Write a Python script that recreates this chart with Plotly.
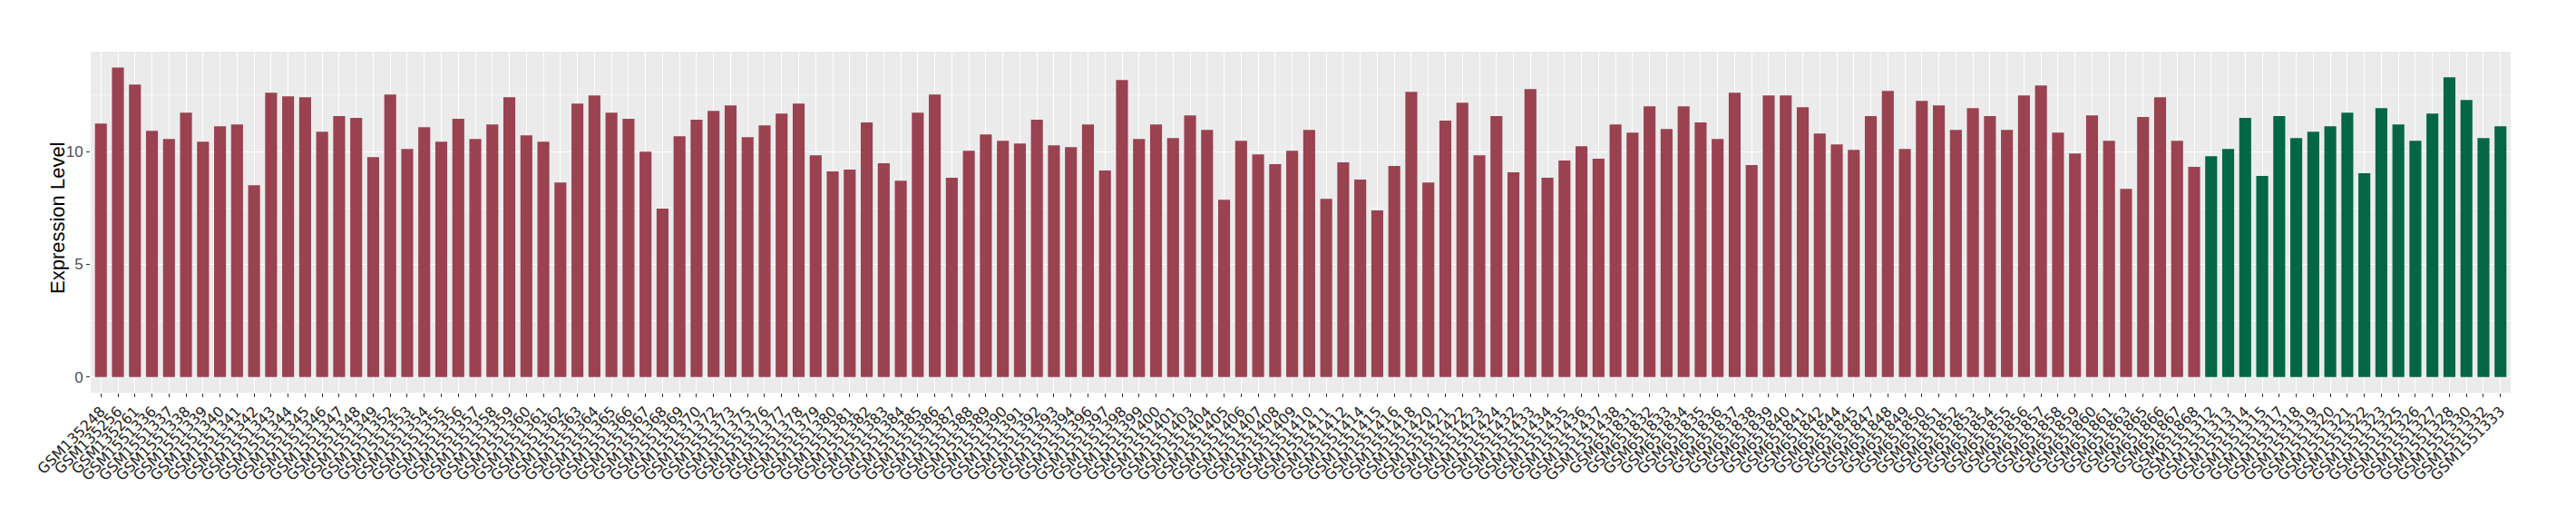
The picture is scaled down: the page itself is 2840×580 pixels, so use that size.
import plotly.graph_objects as go

# Group 1 (red) samples and expression levels
red_samples = [
    "GSM135248", "GSM135256", "GSM135261",
    "GSM1551336", "GSM1551337", "GSM1551338", "GSM1551339", "GSM1551340", "GSM1551341",
    "GSM1551342", "GSM1551343", "GSM1551344", "GSM1551345", "GSM1551346", "GSM1551347",
    "GSM1551348", "GSM1551349", "GSM1551352", "GSM1551353", "GSM1551354", "GSM1551355",
    "GSM1551356", "GSM1551357", "GSM1551358", "GSM1551359", "GSM1551360", "GSM1551361",
    "GSM1551362", "GSM1551363", "GSM1551364", "GSM1551365", "GSM1551366", "GSM1551367",
    "GSM1551368", "GSM1551369", "GSM1551370", "GSM1551372", "GSM1551373", "GSM1551375",
    "GSM1551376", "GSM1551377", "GSM1551378", "GSM1551379", "GSM1551380", "GSM1551381",
    "GSM1551382", "GSM1551383", "GSM1551384", "GSM1551385", "GSM1551386", "GSM1551387",
    "GSM1551388", "GSM1551389", "GSM1551390", "GSM1551391", "GSM1551392", "GSM1551393",
    "GSM1551394", "GSM1551396", "GSM1551397", "GSM1551398", "GSM1551399", "GSM1551400",
    "GSM1551401", "GSM1551403", "GSM1551404", "GSM1551405", "GSM1551406", "GSM1551407",
    "GSM1551408", "GSM1551409", "GSM1551410", "GSM1551411", "GSM1551412", "GSM1551414",
    "GSM1551415", "GSM1551416", "GSM1551418", "GSM1551420", "GSM1551421", "GSM1551422",
    "GSM1551423", "GSM1551424", "GSM1551432", "GSM1551433", "GSM1551434", "GSM1551435",
    "GSM1551436", "GSM1551437", "GSM1551438",
    "GSM651831", "GSM651832", "GSM651833", "GSM651834", "GSM651835", "GSM651836",
    "GSM651837", "GSM651838", "GSM651839", "GSM651840", "GSM651841", "GSM651842",
    "GSM651844", "GSM651845", "GSM651847", "GSM651848", "GSM651849", "GSM651850",
    "GSM651851", "GSM651852", "GSM651853", "GSM651854", "GSM651855", "GSM651856",
    "GSM651857", "GSM651858", "GSM651859", "GSM651860", "GSM651861", "GSM651863",
    "GSM651865", "GSM651866", "GSM651867", "GSM651868",
]
red_values = [
    11.24, 13.73, 12.97,
    10.92, 10.56, 11.73, 10.44, 11.12, 11.20,
    8.51, 12.61, 12.45, 12.41, 10.88, 11.57,
    11.49, 9.76, 12.53, 10.12, 11.08, 10.44,
    11.45, 10.56, 11.20, 12.41, 10.72, 10.44,
    8.63, 12.13, 12.49, 11.73, 11.45, 10.00,
    7.47, 10.68, 11.41, 11.81, 12.05, 10.64,
    11.16, 11.69, 12.13, 9.84, 9.12, 9.20,
    11.29, 9.48, 8.71, 11.73, 12.53, 8.84,
    10.04, 10.76, 10.48, 10.36, 11.41, 10.28,
    10.20, 11.20, 9.16, 13.17, 10.56, 11.20,
    10.60, 11.61, 10.96, 7.87, 10.48, 9.88,
    9.44, 10.04, 10.96, 7.91, 9.52, 8.76,
    7.39, 9.36, 12.65, 8.63, 11.37, 12.17,
    9.84, 11.57, 9.08, 12.77, 8.84, 9.60,
    10.24, 9.68, 11.20,
    10.84, 12.01, 11.00, 12.01, 11.29, 10.56,
    12.61, 9.40, 12.49, 12.49, 11.97, 10.80,
    10.32, 10.08, 11.57, 12.69, 10.12, 12.25,
    12.05, 10.96, 11.93, 11.57, 10.96, 12.49,
    12.93, 10.84, 9.92, 11.61, 10.48, 8.35,
    11.53, 12.41, 10.48, 9.32,
]

# Group 2 (green) samples and expression levels
green_samples = [
    "GSM1551312", "GSM1551313", "GSM1551314", "GSM1551315", "GSM1551317", "GSM1551318",
    "GSM1551319", "GSM1551320", "GSM1551321", "GSM1551322", "GSM1551323", "GSM1551325",
    "GSM1551326", "GSM1551327", "GSM1551328", "GSM1551330", "GSM1551332", "GSM1551333",
]
green_values = [
    9.80, 10.12, 11.49, 8.92, 11.57, 10.60,
    10.88, 11.12, 11.73, 9.04, 11.93, 11.20,
    10.48, 11.69, 13.29, 12.29, 10.60, 11.12,
]

y_ticks = [0, 5, 10]
y_title = "Expression Level"

RED = "#9A4250"
GREEN = "#036745"

all_samples = red_samples + green_samples

fig = go.Figure()
fig.add_trace(go.Bar(x=red_samples, y=red_values, marker_color=RED,
                     marker_line_width=0, width=0.7, showlegend=False))
fig.add_trace(go.Bar(x=green_samples, y=green_values, marker_color=GREEN,
                     marker_line_width=0, width=0.7, showlegend=False))

fig.update_layout(
    width=2840, height=580,
    margin=dict(l=100, r=72, t=57, b=147, autoexpand=False),
    paper_bgcolor="white",
    plot_bgcolor="#EBEBEB",
    barmode="overlay",
    showlegend=False,
    font=dict(family="Liberation Sans, Arial, sans-serif", color="#4D4D4D"),
)
fig.update_xaxes(
    type="category", automargin=False,
    categoryorder="array", categoryarray=all_samples,
    tickmode="array", tickvals=all_samples, ticktext=all_samples,
    range=[-0.6, len(all_samples) - 1 + 0.6],
    tickangle=-45,
    tickfont=dict(family="DejaVu Sans, sans-serif", size=16, color="#222222"),
    showgrid=True, gridcolor="white", gridwidth=1.1,
    ticks="outside", ticklen=4, tickcolor="#333333", tickwidth=1,
    showline=False, zeroline=False,
)
fig.update_yaxes(
    automargin=False,
    range=[-0.69, 14.43],
    tickmode="array", tickvals=y_ticks, ticktext=[str(v) for v in y_ticks],
    tickfont=dict(family="Liberation Sans, Arial, sans-serif", size=17, color="#4D4D4D"),
    showgrid=True, gridcolor="white", gridwidth=1.1,
    minor=dict(tickvals=[2.5, 7.5, 12.5], showgrid=True, gridcolor="#F6F6F6", gridwidth=0.6),
    ticks="outside", ticklen=4, tickcolor="#333333", tickwidth=1,
    zeroline=False, showline=False,
)
fig.add_annotation(
    text=y_title, textangle=-90, showarrow=False,
    xref="paper", yref="paper", x=-0.0139, y=0.513,
    xanchor="center", yanchor="middle",
    font=dict(family="Liberation Sans, Arial, sans-serif", size=22, color="black"),
)

fig.write_html("out.html", config={"displayModeBar": False},
               post_script="document.body.style.margin='0';")
